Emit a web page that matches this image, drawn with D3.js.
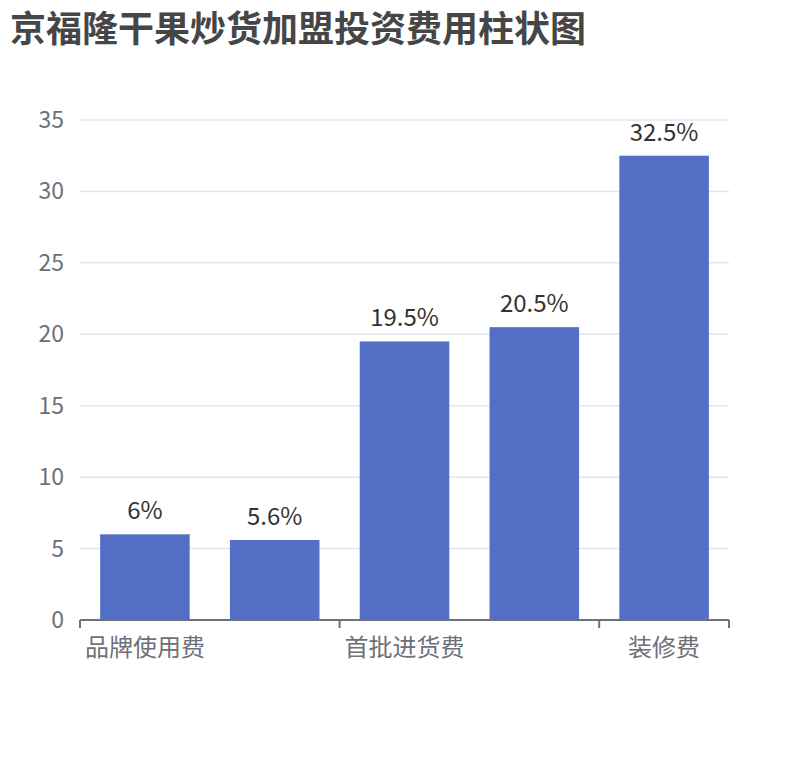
<!DOCTYPE html>
<html>
<head>
<meta charset="utf-8">
<script src="https://cdn.jsdelivr.net/npm/d3@7/dist/d3.min.js"></script>
<style>
  body { margin: 0; background: #fff; }
  svg { display: block; font-family: "Noto Sans CJK SC", "Noto Sans", sans-serif; }
</style>
</head>
<body>
<svg id="chart"></svg>
<script>
// chart data
const titleText = "京福隆干果炒货加盟投资费用柱状图";
const categories = ["品牌使用费", "加盟费", "首批进货费", "设备费", "装修费"];
const values = [6, 5.6, 19.5, 20.5, 32.5];
const yTicks = [0, 5, 10, 15, 20, 25, 30, 35];
const shownLabels = [0, 2, 4]; // x labels that fit

const width = 810, height = 760;
const margin = { top: 120, right: 81, bottom: 140, left: 80 };
const barRatio = 0.69;

const svg = d3.select("#chart")
    .attr("width", width)
    .attr("height", height);

// title
svg.append("text")
    .attr("x", 10)
    .attr("y", 42)
    .style("font-size", "36px")
    .style("font-weight", "bold")
    .style("fill", "#464646")
    .text(titleText);

const x = d3.scaleBand()
    .domain(categories)
    .range([margin.left, width - margin.right]);

const barW = x.bandwidth() * barRatio;
const barX = name => x(name) + (x.bandwidth() - barW) / 2;

const y = d3.scaleLinear()
    .domain([0, 35])
    .range([height - margin.bottom, margin.top]);

// grid lines
svg.append("g")
    .selectAll("line")
    .data(yTicks.filter(d => d > 0))
    .enter().append("line")
    .attr("x1", margin.left)
    .attr("x2", width - margin.right)
    .attr("y1", d => y(d))
    .attr("y2", d => y(d))
    .style("stroke", "#E0E6F1")
    .style("stroke-width", 1.5);

// y labels
svg.append("g")
    .selectAll("text")
    .data(yTicks)
    .enter().append("text")
    .attr("x", margin.left - 16)
    .attr("y", d => y(d))
    .attr("dy", "0.35em")
    .style("text-anchor", "end")
    .style("font-size", "23px")
    .style("fill", "#6E7079")
    .text(d => d);

// bars
svg.append("g")
    .selectAll("rect")
    .data(values)
    .enter().append("rect")
    .attr("x", (d, i) => barX(categories[i]))
    .attr("width", barW)
    .attr("y", d => y(d))
    .attr("height", d => y(0) - y(d))
    .style("fill", "#5470C6");

// value labels
svg.append("g")
    .selectAll("text")
    .data(values)
    .enter().append("text")
    .attr("x", (d, i) => x(categories[i]) + x.bandwidth() / 2)
    .attr("y", d => y(d) - 15)
    .style("text-anchor", "middle")
    .style("font-size", "24px")
    .style("fill", "#333")
    .text(d => d + "%");

// x axis line and ticks
const axisY = y(0);
svg.append("line")
    .attr("x1", margin.left)
    .attr("x2", width - margin.right)
    .attr("y1", axisY)
    .attr("y2", axisY)
    .style("stroke", "#6E7079")
    .style("stroke-width", 2);

const tickXs = shownLabels.map(i => x(categories[i])).concat([width - margin.right]);
svg.append("g")
    .selectAll("line")
    .data(tickXs)
    .enter().append("line")
    .attr("x1", d => d)
    .attr("x2", d => d)
    .attr("y1", axisY)
    .attr("y2", axisY + 8)
    .style("stroke", "#6E7079")
    .style("stroke-width", 2);

svg.append("g")
    .selectAll("text")
    .data(shownLabels)
    .enter().append("text")
    .attr("x", i => x(categories[i]) + x.bandwidth() / 2)
    .attr("y", axisY + 36)
    .style("text-anchor", "middle")
    .style("font-size", "24px")
    .style("fill", "#6E7079")
    .text(i => categories[i]);
</script>
</body>
</html>
